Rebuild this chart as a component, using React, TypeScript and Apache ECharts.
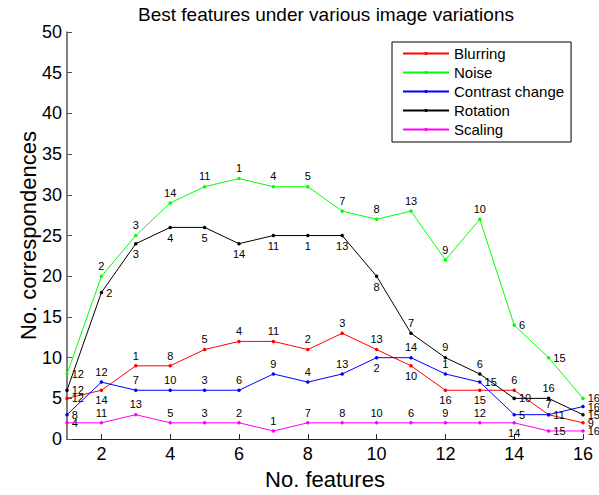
import React, { useEffect, useRef } from "react";
import * as echarts from "echarts";

const features = [1, 2, 3, 4, 5, 6, 7, 8, 9, 10, 11, 12, 13, 14, 15, 16];
const xTicks = [2, 4, 6, 8, 10, 12, 14, 16];

const blurring = [5, 6, 9, 9, 11, 12, 12, 11, 13, 11, 9, 6, 6, 6, 3, 2];
const noise = [8, 20, 25, 29, 31, 32, 31, 31, 28, 27, 28, 22, 27, 14, 10, 5];
const contrast = [3, 7, 6, 6, 6, 6, 8, 7, 8, 10, 10, 8, 7, 3, 3, 4];
const rotation = [6, 18, 24, 26, 26, 24, 25, 25, 25, 20, 13, 10, 8, 5, 5, 3];
const scaling = [2, 2, 3, 2, 2, 2, 1, 2, 2, 2, 2, 2, 2, 2, 1, 1];

const blurringLabels = [12, 14, 1, 8, 5, 4, 11, 2, 3, 13, 10, 16, 15, 6, 11, 9];
const noiseLabels = [12, 2, 3, 14, 11, 1, 4, 5, 7, 8, 13, 9, 10, 6, 15, 16];
const contrastLabels = [8, 12, 7, 10, 3, 6, 9, 4, 13, 2, 14, 1, 15, 5, 7, 16];
const rotationLabels = [12, 2, 3, 4, 5, 14, 11, 1, 13, 8, 7, 9, 6, 10, 16, 15];
const scalingLabels = [4, 11, 13, 5, 3, 2, 1, 7, 8, 10, 6, 9, 12, 14, 15, 16];

// label placement relative to each point
const T = "top", B = "bottom", R = "right";
const blurringPos = [R, B, T, T, T, T, T, T, T, T, B, B, B, T, R, R];
const noisePos = [R, T, T, T, T, T, T, T, T, T, T, T, T, R, R, R];
const contrastPos = [R, T, T, T, T, T, T, T, T, B, T, T, R, R, T, R];
const rotationPos = [R, R, B, B, B, B, B, B, B, B, T, T, T, R, T, R];
const scalingPos = [R, T, T, T, T, T, T, T, T, T, T, T, T, B, R, R];

const FONT = "'Liberation Sans', Arial, Helvetica, sans-serif";

function makeSeries(name: string, color: string, values: number[], labels: number[], pos: string[]) {
  return {
    name,
    type: "line",
    symbol: "circle",
    symbolSize: 3.5,
    showSymbol: true,
    lineStyle: { color, width: 1 },
    itemStyle: { color },
    label: {
      show: true,
      color: "#000",
      textBorderWidth: 0,
      textBorderColor: "transparent",
      fontSize: 11,
      fontFamily: FONT,
      distance: 3,
      formatter: (p: any) => String(labels[p.dataIndex]),
    },
    emphasis: { disabled: true },
    data: values.map((v, i) => ({
      value: [features[i], v],
      label: { position: pos[i], color: "#000" },
    })),
  };
}

export default function App() {
  const ref = useRef<HTMLDivElement>(null);
  useEffect(() => {
    if (!ref.current) return;
    const chart = echarts.init(ref.current, null, { renderer: "svg" });
    chart.setOption({
      animation: false,
      backgroundColor: "#fff",
      textStyle: { fontFamily: FONT },
      title: {
        text: "Best features under various image variations",
        left: 138,
        top: 5,
        padding: 0,
        textStyle: { fontSize: 19, fontWeight: "normal", color: "#000", fontFamily: FONT },
      },
      legend: {
        orient: "vertical",
        left: 392,
        top: 42,
        padding: [4, 7, 5, 10],
        itemGap: 4,
        itemWidth: 46,
        itemHeight: 4,
        borderColor: "#000",
        borderWidth: 1,
        backgroundColor: "#fff",
        textStyle: { fontSize: 15, color: "#000", fontFamily: FONT, lineHeight: 15 },
        data: ["Blurring", "Noise", "Contrast change", "Rotation", "Scaling"],
      },
      grid: { left: 67, right: 16, top: 32, bottom: 54, containLabel: false },
      xAxis: {
        type: "value",
        min: 1,
        max: 16,
        name: "No. features",
        nameLocation: "middle",
        nameGap: 28,
        nameTextStyle: { fontSize: 22, color: "#000", fontFamily: FONT },
        axisLine: { show: true, lineStyle: { color: "#222", width: 1 } },
        axisTick: { show: true, inside: true, length: 5, customValues: xTicks, lineStyle: { color: "#222" } },
        axisLabel: { customValues: xTicks, fontSize: 18, color: "#000", margin: 6, fontFamily: FONT },
        splitLine: { show: false },
      },
      yAxis: {
        type: "value",
        min: 0,
        max: 50,
        interval: 5,
        name: "No. correspondences",
        nameLocation: "middle",
        nameGap: 39,
        nameMoveOverlap: false,
        nameTextStyle: { fontSize: 22, color: "#000", fontFamily: FONT, verticalAlign: "middle" },
        axisLine: { show: true, lineStyle: { color: "#555", width: 1.5 } },
        axisTick: { show: true, inside: true, length: 5, lineStyle: { color: "#555" } },
        axisLabel: { fontSize: 18, color: "#000", margin: 5, fontFamily: FONT },
        splitLine: { show: false },
      },
      series: [
        makeSeries("Blurring", "#ff0000", blurring, blurringLabels, blurringPos),
        makeSeries("Noise", "#00ff00", noise, noiseLabels, noisePos),
        makeSeries("Contrast change", "#0000ff", contrast, contrastLabels, contrastPos),
        makeSeries("Rotation", "#000000", rotation, rotationLabels, rotationPos),
        makeSeries("Scaling", "#ff00ff", scaling, scalingLabels, scalingPos),
      ],
    });
    return () => chart.dispose();
  }, []);
  return (
    <div
      ref={ref}
      style={{ position: "absolute", left: 0, top: 0, width: 599, height: 495, background: "#fff" }}
    />
  );
}
